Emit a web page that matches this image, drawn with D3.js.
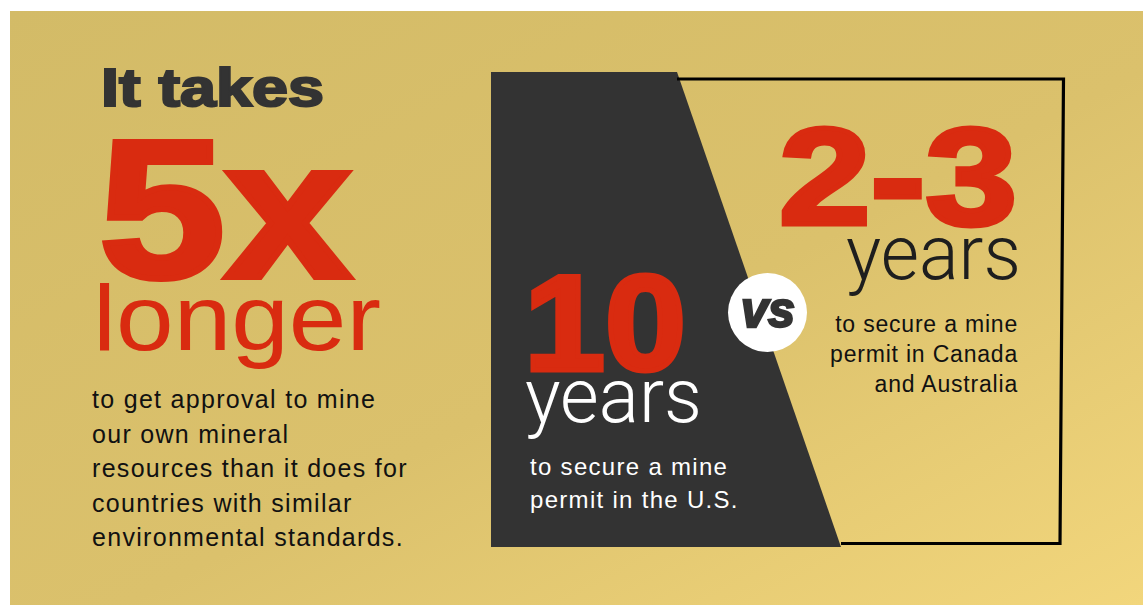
<!DOCTYPE html>
<html>
<head>
<meta charset="utf-8">
<script src="https://cdn.jsdelivr.net/npm/d3@7"></script>
<style>
  html, body { margin: 0; padding: 0; background: #fff; }
  svg { display: block; }
  .heavy { font-family: "Liberation Sans", Arial, sans-serif; font-weight: bold; }
  .plain { font-family: "Liberation Sans", Arial, sans-serif; }
  .light { font-family: Roboto, "Liberation Sans", sans-serif; font-weight: 300; }
</style>
</head>
<body>
<div id="content"></div>
<script>
// values and texts of the infographic
const RATIO = 5;
const US_YEARS = [10];
const OTHER_YEARS = [2, 3];
const INTRO = ['It takes'];
const LONGER = ['longer'];
const LEFT_NOTE = [
    'to get approval to mine',
    'our own mineral',
    'resources than it does for',
    'countries with similar',
    'environmental standards.'
];
const US_NOTE = ['to secure a mine', 'permit in the U.S.'];
const OTHER_NOTE = ['to secure a mine', 'permit in Canada', 'and Australia'];
const UNIT = 'years';

var width = 1143;
var height = 605;

var RED = '#d92b10';
var DARK = '#333333';

var svg = d3.select('#content')
    .append('svg')
    .attr('width', width)
    .attr('height', height);

var defs = svg.append('defs');
var grad = defs.append('linearGradient')
    .attr('id', 'gold')
    .attr('x1', '0%').attr('y1', '0%')
    .attr('x2', '100%').attr('y2', '100%');
grad.append('stop').attr('offset', '0%').attr('stop-color', '#d3bb67');
grad.append('stop').attr('offset', '55%').attr('stop-color', '#dbc16c');
grad.append('stop').attr('offset', '100%').attr('stop-color', '#f2d67c');

svg.append('rect')
    .attr('x', 10).attr('y', 11)
    .attr('width', width - 10).attr('height', height - 11)
    .attr('fill', 'url(#gold)');

// left block
var lineY = d3.scaleLinear().domain([0, 1]).range([408, 442.5]);

svg.selectAll('.intro')
    .data(INTRO)
    .enter()
    .append('text')
    .attr('class', 'intro heavy')
    .attr('x', 101).attr('y', 106)
    .attr('font-size', 54)
    .attr('fill', DARK)
    .attr('stroke', DARK).attr('stroke-width', 2.2)
    .attr('textLength', 223).attr('lengthAdjust', 'spacingAndGlyphs')
    .text(d => d);

svg.selectAll('.ratio')
    .data([RATIO])
    .enter()
    .append('text')
    .attr('class', 'ratio heavy')
    .attr('x', 99).attr('y', 277)
    .attr('font-size', 196)
    .attr('fill', RED)
    .attr('stroke', RED).attr('stroke-width', 6)
    .attr('textLength', 252).attr('lengthAdjust', 'spacingAndGlyphs')
    .text(d => d + 'x');

svg.selectAll('.longer')
    .data(LONGER)
    .enter()
    .append('text')
    .attr('class', 'longer plain')
    .attr('x', 93).attr('y', 350)
    .attr('font-size', 92)
    .attr('fill', RED)
    .attr('textLength', 288).attr('lengthAdjust', 'spacingAndGlyphs')
    .text(d => d);

svg.selectAll('.left-note')
    .data(LEFT_NOTE)
    .enter()
    .append('text')
    .attr('class', 'left-note plain')
    .attr('x', 92)
    .attr('y', (d, i) => lineY(i))
    .attr('font-size', 25)
    .attr('letter-spacing', 1.3)
    .attr('fill', '#111')
    .text(d => d);

// dark panel and frame
var panel = [[491, 72], [677, 72], [841, 547], [491, 547]];
svg.append('path')
    .attr('d', d3.line()(panel) + 'Z')
    .attr('fill', DARK);

var frame = [[677, 79], [1063.5, 79], [1060, 543.5], [841, 543.5]];
svg.append('path')
    .attr('d', d3.line()(frame))
    .attr('fill', 'none')
    .attr('stroke', '#000')
    .attr('stroke-width', 3.2);

// US side
svg.selectAll('.us-value')
    .data(US_YEARS)
    .enter()
    .append('text')
    .attr('class', 'us-value heavy')
    .attr('x', 524).attr('y', 370)
    .attr('font-size', 136)
    .attr('fill', RED)
    .attr('stroke', RED).attr('stroke-width', 5)
    .attr('textLength', 162).attr('lengthAdjust', 'spacingAndGlyphs')
    .text(d => d);

svg.append('text')
    .attr('class', 'light')
    .attr('x', 525).attr('y', 422)
    .attr('font-size', 76)
    .attr('fill', '#fff')
    .attr('textLength', 177).attr('lengthAdjust', 'spacingAndGlyphs')
    .text(UNIT);

var usY = d3.scaleLinear().domain([0, 1]).range([475, 508]);
svg.selectAll('.us-note')
    .data(US_NOTE)
    .enter()
    .append('text')
    .attr('class', 'us-note plain')
    .attr('x', 530)
    .attr('y', (d, i) => usY(i))
    .attr('font-size', 24)
    .attr('letter-spacing', 1.3)
    .attr('fill', '#fff')
    .text(d => d);

// Canada / Australia side
svg.selectAll('.other-value')
    .data([OTHER_YEARS])
    .enter()
    .append('text')
    .attr('class', 'other-value heavy')
    .attr('x', 779).attr('y', 224)
    .attr('font-size', 138)
    .attr('fill', RED)
    .attr('stroke', RED).attr('stroke-width', 5)
    .attr('textLength', 238).attr('lengthAdjust', 'spacingAndGlyphs')
    .text(d => d.join('-'));

svg.append('text')
    .attr('class', 'light')
    .attr('x', 846).attr('y', 279)
    .attr('font-size', 76)
    .attr('fill', '#1e1e1e')
    .attr('textLength', 175).attr('lengthAdjust', 'spacingAndGlyphs')
    .text(UNIT);

var otherY = d3.scaleLinear().domain([0, 1]).range([332, 362]);
svg.selectAll('.other-note')
    .data(OTHER_NOTE)
    .enter()
    .append('text')
    .attr('class', 'other-note plain')
    .attr('x', 1018)
    .attr('y', (d, i) => otherY(i))
    .attr('text-anchor', 'end')
    .attr('font-size', 23)
    .attr('letter-spacing', 0.8)
    .attr('fill', '#111')
    .text(d => d);

// vs badge
svg.append('circle')
    .attr('cx', 767.5).attr('cy', 312.5).attr('r', 39.5)
    .attr('fill', '#fff');

svg.append('text')
    .attr('class', 'heavy')
    .attr('x', 768).attr('y', 327)
    .attr('text-anchor', 'middle')
    .attr('font-size', 50)
    .attr('font-style', 'italic')
    .attr('fill', DARK)
    .attr('stroke', DARK).attr('stroke-width', 2.5)
    .attr('textLength', 54).attr('lengthAdjust', 'spacingAndGlyphs')
    .text('vs');
</script>
</body>
</html>
